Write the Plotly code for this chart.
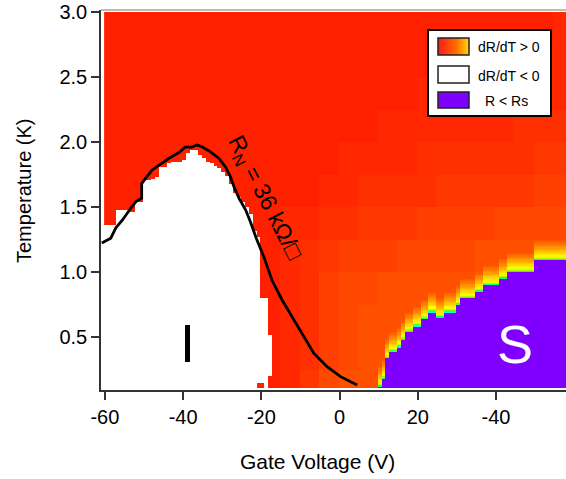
import numpy as np
import plotly.graph_objects as go

# ---------------- data ----------------
# 1-V wide columns starting at V = -60.2 (column i spans [-60.2+i, -59.2+i])
COL_V0 = -60.2
N_COLS = 119
# top temperature (K) of the white region (dR/dT < 0) for columns 0..43
white_top = [1.36, 1.36, 1.36, 1.48, 1.48, 1.48, 1.46, 1.46, 1.54, 1.54,
             1.71, 1.71, 1.72, 1.73, 1.81, 1.81, 1.84, 1.85, 1.85, 1.85,
             1.86, 1.92, 1.94, 1.94, 1.90, 1.88, 1.85, 1.84, 1.82, 1.80,
             1.77, 1.74, 1.68, 1.61, 1.58, 1.54, 1.50, 1.45, 1.32, 1.27,
             0.80, 0.80, 0.52, 0.0]
# bottom temperature (K) of the white region for the same columns
white_bottom = [0.0] * 39 + [0.15, 0.15, 0.0, 0.20, 0.0]
# top temperature (K) of the superconducting region (R < Rs), columns 70..118
PURPLE_COL0 = 70
purple_top = [0.12, 0.18, 0.336, 0.387, 0.387, 0.425, 0.48, 0.54, 0.54, 0.585,
              0.585, 0.638, 0.638, 0.695, 0.695, 0.65, 0.65, 0.695, 0.695, 0.695,
              0.746, 0.798, 0.798, 0.798, 0.798, 0.849, 0.849, 0.90, 0.90, 0.90,
              0.90, 0.95, 0.95, 1.0, 1.0, 1.0, 1.0, 1.0, 1.0, 1.0,
              1.09, 1.09, 1.09, 1.09, 1.09, 1.09, 1.09, 1.09, 1.09]
# dR/dT>0 colour level (0 = red ... 9 = orange), 5 V x 0.25 K blocks,
# blocks start at V=-60; rows listed from T 2.75-3.0 (top) down to 0-0.25
level_rows = [
    "222222222222222222222223",
    "222222222222222222222333",
    "222222222222222233333333",
    "222222222222223333333444",
    "222222222222333344444455",
    "222222222223344445555566",
    "222222222334455566667777",
    "222222222345666777788888",
    "222222222346778888888888",
    "222222222346788888888888",
    "222222222346788888888888",
    "222222222357888888888888",
]
# R_N = 36 kOhm/sq contour
curve_v = [-60.8, -58.5, -57.2, -55.5, -53.4, -52.1, -50.6, -50.6, -49.6, -47.9,
           -46.2, -43.6, -41.0, -39.5, -37.8, -36.5, -35.2, -33.1, -30.9, -29.2,
           -27.9, -27.0, -25.7, -24.0, -22.8, -21.3, -19.4, -18.1, -17.3, -14.7,
           -11.7, -9.1, -6.6, -3.2, 0.26, 4.5]
curve_t = [1.223, 1.26, 1.34, 1.40, 1.49, 1.54, 1.567, 1.68, 1.72, 1.785,
           1.82, 1.875, 1.92, 1.96, 1.96, 1.977, 1.964, 1.926, 1.875, 1.81,
           1.733, 1.656, 1.567, 1.477, 1.387, 1.26, 1.12, 1.0, 0.938, 0.785,
           0.63, 0.502, 0.375, 0.272, 0.195, 0.131]

x_tickvals = [-60, -40, -20, 0, 20, 40]
x_ticktext = ["-60", "-40", "-20", "0", "20", "-40"]
y_tickvals = [0.5, 1.0, 1.5, 2.0, 2.5, 3.0]
y_ticktext = ["0.5", "1.0", "1.5", "2.0", "2.5", "3.0"]

# ---------------- build heatmap table ----------------
x_edges = COL_V0 + np.arange(N_COLS + 1) * 1.0
y_edges = np.round(np.arange(0.11, 3.0001, 0.01), 4)
xc = 0.5 * (x_edges[:-1] + x_edges[1:])
yc = 0.5 * (y_edges[:-1] + y_edges[1:])
z = np.zeros((len(yc), len(xc)))
nrow_blocks = len(level_rows)
for j, t in enumerate(yc):
    rb = min(int(t / 0.25), nrow_blocks - 1)
    row = level_rows[nrow_blocks - 1 - rb]
    for i, v in enumerate(xc):
        cb = min(max(int((v + 60) // 5), 0), len(row) - 1)
        val = int(row[cb]) / 9 * 0.5
        if i < len(white_top) and white_bottom[i] <= t < white_top[i]:
            val = np.nan
        k = i - PURPLE_COL0
        if 0 <= k < len(purple_top):
            pt = purple_top[k]
            if t < pt:
                val = 1.0
            else:
                d = t - pt
                if d < 0.15:
                    val = max(val, 0.92 - d * 2.8)
        z[j, i] = val

cscale = [[0.0, "#ff1000"], [0.5, "#ff5800"], [0.6, "#ff8000"], [0.7, "#ffb000"],
          [0.78, "#ffe000"], [0.84, "#ffff00"], [0.88, "#a0ff00"], [0.91, "#00ff80"],
          [0.92, "#00ffe0"], [0.95, "#00ffff"],
          [0.95, "#8000ff"], [1.0, "#8000ff"]]

FONT = "Liberation Sans, Arial, sans-serif"
fig = go.Figure()
fig.add_trace(go.Heatmap(x=x_edges, y=y_edges, z=z, colorscale=cscale, zmin=0, zmax=1,
                         showscale=False, hoverinfo="skip"))
fig.add_trace(go.Scatter(x=curve_v, y=curve_t, mode="lines",
                         line=dict(color="black", width=2.8), hoverinfo="skip",
                         showlegend=False))

# paper coordinates helpers (plot area px: x 101..566, y 10..390)
def px(xp):
    return (xp - 101) / 465.0

def py(yp):
    return (390 - yp) / 380.0

shapes = []
# top border
shapes.append(dict(type="line", xref="paper", yref="paper", x0=0, x1=1, y0=py(10), y1=py(10),
                   line=dict(color="#777", width=1)))
# legend box
shapes.append(dict(type="rect", xref="paper", yref="paper", x0=px(428), x1=px(551),
                   y0=py(116), y1=py(30), fillcolor="white", line=dict(color="black", width=2)))
# gradient swatch
n = 16
c0, c1, c2 = (255, 30, 30), (255, 110, 0), (255, 210, 0)
for s in range(n):
    f = s / (n - 1)
    if f < 0.6:
        g = f / 0.6
        col = tuple(int(c0[q] + (c1[q] - c0[q]) * g) for q in range(3))
    else:
        g = (f - 0.6) / 0.4
        col = tuple(int(c1[q] + (c2[q] - c1[q]) * g) for q in range(3))
    xa = 438 + 31 * s / n
    xb = min(438 + 31 * (s + 1) / n + 1.0, 469)
    shapes.append(dict(type="rect", xref="paper", yref="paper", x0=px(xa), x1=px(xb),
                       y0=py(55), y1=py(38), fillcolor="rgb(%d,%d,%d)" % col,
                       line=dict(width=0)))
shapes.append(dict(type="rect", xref="paper", yref="paper", x0=px(438), x1=px(469),
                   y0=py(55), y1=py(38), line=dict(color="#222", width=1.5)))
shapes.append(dict(type="rect", xref="paper", yref="paper", x0=px(438), x1=px(469),
                   y0=py(83), y1=py(66), fillcolor="white", line=dict(color="#222", width=1.5)))
shapes.append(dict(type="rect", xref="paper", yref="paper", x0=px(438), x1=px(469),
                   y0=py(108), y1=py(92), fillcolor="#8000ff", line=dict(color="#222", width=1.5)))

ann = []
ann.append(dict(xref="paper", yref="paper", x=px(476), y=py(47), text="dR/dT > 0",
                showarrow=False, xanchor="left", yanchor="middle",
                font=dict(family=FONT, size=14, color="black")))
ann.append(dict(xref="paper", yref="paper", x=px(476), y=py(76), text="dR/dT < 0",
                showarrow=False, xanchor="left", yanchor="middle",
                font=dict(family=FONT, size=14, color="black")))
ann.append(dict(xref="paper", yref="paper", x=px(483), y=py(101), text="R < Rs",
                showarrow=False, xanchor="left", yanchor="middle",
                font=dict(family=FONT, size=14, color="black")))
ann.append(dict(xref="paper", yref="paper", x=px(317), y=py(461), text="Gate Voltage (V)",
                showarrow=False, xanchor="center", yanchor="middle",
                font=dict(family=FONT, size=21, color="black")))
ann.append(dict(xref="paper", yref="paper", x=px(24), y=py(191), text="Temperature (K)",
                showarrow=False, xanchor="center", yanchor="middle", textangle=-90,
                font=dict(family=FONT, size=20, color="black")))
ann.append(dict(xref="paper", yref="paper", x=px(265), y=py(198),
                text="R<sub>N</sub> = 36 kΩ/□", showarrow=False, textangle=63,
                xanchor="center", yanchor="middle",
                font=dict(family=FONT, size=23, color="black")))
ann.append(dict(xref="paper", yref="paper", x=px(187), y=py(343), text="I",
                showarrow=False, xanchor="center", yanchor="middle",
                font=dict(family=FONT, size=54, color="black")))
ann.append(dict(xref="paper", yref="paper", x=px(515), y=py(344), text="S",
                showarrow=False, xanchor="center", yanchor="middle",
                font=dict(family="Liberation Sans Narrow, " + FONT, size=54, color="white")))

axis_common = dict(showgrid=False, zeroline=False, showline=True, linecolor="#333",
                   linewidth=1.5, ticks="outside", ticklen=8, tickwidth=1.5,
                   tickcolor="#333", tickfont=dict(family=FONT, size=20, color="black"))
fig.update_layout(
    width=566, height=479,
    margin=dict(l=101, r=0, t=10, b=89),
    paper_bgcolor="white", plot_bgcolor="white",
    showlegend=False,
    xaxis=dict(range=[-61.0, 57.9], tickvals=x_tickvals, ticktext=x_ticktext, **axis_common),
    yaxis=dict(range=[0.0923, 3.0154], tickvals=y_tickvals, ticktext=y_ticktext, **axis_common),
    shapes=shapes, annotations=ann,
)
fig.write_html("out.html")
